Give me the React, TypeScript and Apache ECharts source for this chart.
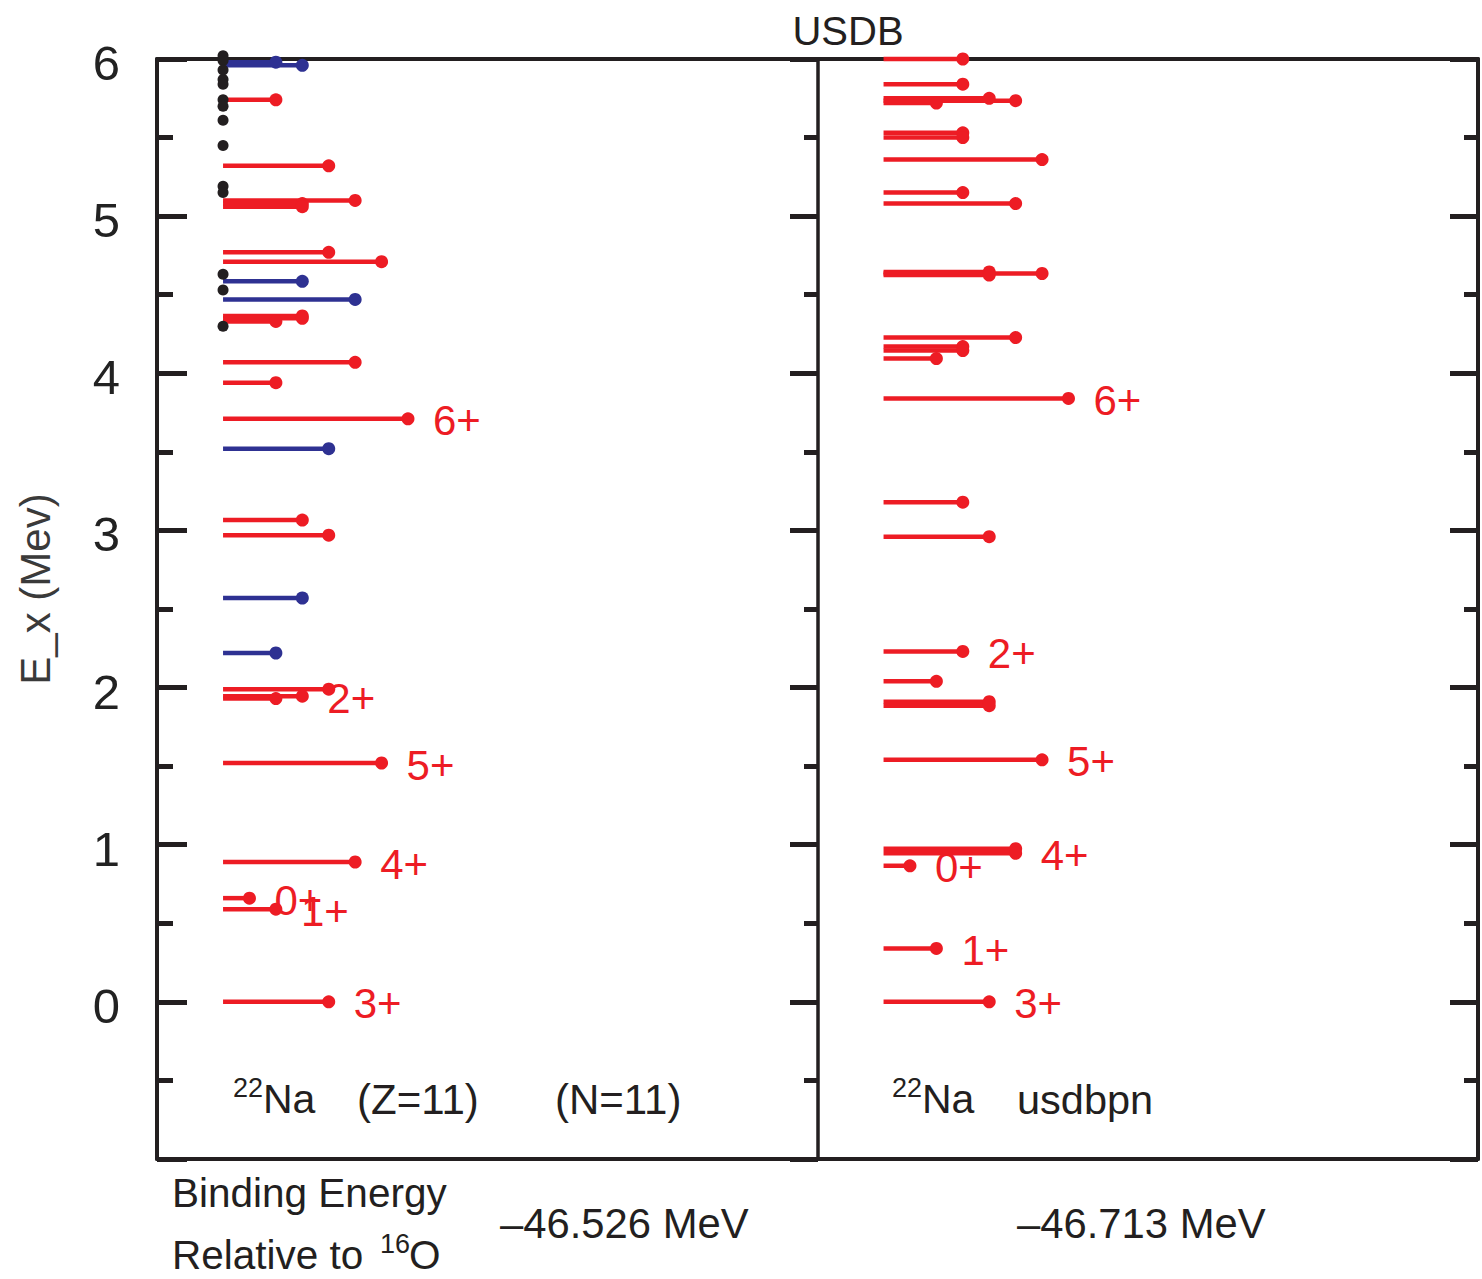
import React, { useEffect, useRef } from "react";
import * as echarts from "echarts";

// Energy axis ticks (MeV)
const yMin = -1;
const yMax = 6;

// Experimental 22Na levels [E_x (MeV), J] — positive parity (red)
const expPositive: [number, number][] = [
  [5.74, 1], [5.32, 3], [5.10, 4], [5.08, 2], [5.06, 2],
  [4.77, 3], [4.71, 5], [4.365, 2], [4.35, 2], [4.33, 1],
  [4.07, 4], [3.94, 1], [3.71, 6], [3.066, 2], [2.97, 3],
  [1.99, 3], [1.945, 2], [1.93, 1], [1.52, 5], [0.89, 4],
  [0.66, 0], [0.59, 1], [0, 3],
];

// Experimental negative parity levels (blue)
const expNegative: [number, number][] = [
  [5.98, 1], [5.96, 2], [4.585, 2], [4.47, 4], [3.52, 3], [2.57, 2], [2.22, 1],
];

// Experimental levels of unknown spin (black dots)
const expUnknown: number[] = [
  6.02, 5.99, 5.93, 5.87, 5.84, 5.74, 5.70, 5.61, 5.45, 5.19, 5.15, 4.63, 4.53, 4.30,
];

// USDB (usdbpn) calculated levels [E_x (MeV), J] — positive parity
const usdbLevels: [number, number][] = [
  [6.00, 2], [5.84, 2], [5.75, 3], [5.735, 4], [5.72, 1],
  [5.53, 2], [5.50, 2], [5.36, 5], [5.15, 2], [5.08, 4],
  [4.645, 3], [4.635, 5], [4.625, 3], [4.227, 4], [4.17, 2],
  [4.145, 2], [4.094, 1], [3.84, 6], [3.18, 2], [2.96, 3],
  [2.23, 2], [2.04, 1], [1.91, 3], [1.885, 3], [1.54, 5],
  [0.975, 4], [0.945, 4], [0.866, 0], [0.34, 1], [0, 3],
];

const titleText = "USDB";
const yAxisTitle = "E_x (Mev)";
const bindingExp = "\u201346.526 MeV";
const bindingUsdb = "\u201346.713 MeV";

const RED = "#ED1C24";
const BLUE = "#2E3192";
const BLACK = "#231F20";
const FONT = "'Liberation Sans', Arial, Helvetica, sans-serif";

function yrast(levels: [number, number][]): [number, number][] {
  const best: Record<number, number> = {};
  levels.forEach(([e, j]) => {
    if (best[j] === undefined || e < best[j]) best[j] = e;
  });
  return Object.keys(best).map((k) => [best[Number(k)], Number(k)] as [number, number]);
}

export default function App() {
  const ref = useRef<HTMLDivElement>(null);

  useEffect(() => {
    if (!ref.current) return;
    const chart = echarts.init(ref.current, null, { renderer: "svg" });

    const START = 0.1;
    const STEP = 0.04;

    const makeRender = (color: string, r: number) => (params: any, api: any) => {
      const panel = api.value(0);
      const e = api.value(1);
      const j = api.value(2);
      const p0 = api.coord([panel + START, e]);
      const p1 = api.coord([panel + START + STEP * (j + 1), e]);
      const children: any[] = [];
      if (j >= 0) {
        children.push({
          type: "line",
          shape: { x1: p0[0], y1: p0[1], x2: p1[0], y2: p1[1] },
          style: { stroke: color, lineWidth: 4.5 },
        });
      }
      children.push({
        type: "circle",
        shape: { cx: p1[0], cy: p1[1], r },
        style: { fill: color },
      });
      return { type: "group", children };
    };

    const labelRender = (params: any, api: any) => {
      const panel = api.value(0);
      const e = api.value(1);
      const j = api.value(2);
      const p1 = api.coord([panel + START + STEP * (j + 1), e]);
      return {
        type: "text",
        x: p1[0] + 25,
        y: p1[1] + 2,
        style: {
          text: `${j}+`,
          fill: RED,
          fontSize: 42,
          fontFamily: FONT,
          align: "left",
          verticalAlign: "middle",
        },
      };
    };

    const withPanel = (panel: number, lv: [number, number][]) =>
      lv.map(([e, j]) => [panel, e, j]);

    const labelData = [
      ...withPanel(0, yrast(expPositive)),
      ...withPanel(1, yrast(usdbLevels)),
    ];

    const axisCommon = {
      type: "value" as const,
      min: yMin,
      max: yMax,
      interval: 1,
      splitLine: { show: false },
      minorSplitLine: { show: false },
    };

    const txt = (text: string, x: number, y: number, size: number, extra: any = {}) => ({
      type: "text",
      x,
      y,
      style: {
        text,
        fontSize: size,
        fontFamily: FONT,
        fill: "#231F20",
        align: "left",
        verticalAlign: "middle",
        ...extra,
      },
    });

    chart.setOption({
      animation: false,
      backgroundColor: "#ffffff",
      grid: { left: 157, right: 4, top: 59, bottom: 120, containLabel: false },
      xAxis: [
        {
          type: "value",
          min: 0,
          max: 2,
          position: "bottom",
          axisLine: { show: true, onZero: false, lineStyle: { color: BLACK, width: 4 } },
          axisTick: { show: false },
          axisLabel: { show: false },
          splitLine: { show: false },
        },
        {
          type: "value",
          min: 0,
          max: 2,
          position: "top",
          axisLine: { show: true, onZero: false, lineStyle: { color: BLACK, width: 4 } },
          axisTick: { show: false },
          axisLabel: { show: false },
          splitLine: { show: false },
        },
      ],
      yAxis: [
        {
          ...axisCommon,
          position: "left",
          axisLine: { show: true, onZero: false, lineStyle: { color: BLACK, width: 4 } },
          axisTick: { show: true, inside: true, length: 30, lineStyle: { color: BLACK, width: 5 } },
          minorTick: { show: true, splitNumber: 2, length: 16, lineStyle: { color: BLACK, width: 5 } },
          axisLabel: {
            show: true,
            margin: 37,
            fontSize: 49,
            fontFamily: FONT,
            color: "#222222",
            formatter: (v: number) => (v === yMin ? "" : `{v|${v}}`),
            rich: {
              v: {
                fontSize: 49,
                fontFamily: FONT,
                color: "#222222",
                padding: [8, 0, 0, 0],
              },
            },
          },
        },
        {
          ...axisCommon,
          position: "right",
          offset: 0,
          axisLine: { show: true, onZero: false, lineStyle: { color: BLACK, width: 4 } },
          axisTick: { show: true, inside: true, length: 28, lineStyle: { color: BLACK, width: 5 } },
          minorTick: { show: true, splitNumber: 2, length: 14, lineStyle: { color: BLACK, width: 5 } },
          axisLabel: { show: false },
        },
        {
          ...axisCommon,
          position: "right",
          offset: -660,
          axisLine: { show: true, onZero: false, lineStyle: { color: BLACK, width: 3.5 } },
          axisTick: { show: true, inside: true, length: 28, lineStyle: { color: BLACK, width: 5 } },
          minorTick: { show: true, splitNumber: 2, length: 14, lineStyle: { color: BLACK, width: 5 } },
          axisLabel: { show: false },
        },
      ],
      series: [
        {
          type: "custom",
          name: "exp+",
          xAxisIndex: 0,
          yAxisIndex: 0,
          clip: false,
          renderItem: makeRender(RED, 6.5),
          data: withPanel(0, expPositive),
          z: 3,
        },
        {
          type: "custom",
          name: "exp-",
          xAxisIndex: 0,
          yAxisIndex: 0,
          clip: false,
          renderItem: makeRender(BLUE, 6.5),
          data: withPanel(0, expNegative),
          z: 3,
        },
        {
          type: "custom",
          name: "exp?",
          xAxisIndex: 0,
          yAxisIndex: 0,
          clip: false,
          renderItem: makeRender(BLACK, 5.5),
          data: expUnknown.map((e) => [0, e, -1]),
          z: 4,
        },
        {
          type: "custom",
          name: "usdb",
          xAxisIndex: 0,
          yAxisIndex: 0,
          clip: false,
          renderItem: makeRender(RED, 6.5),
          data: withPanel(1, usdbLevels),
          z: 3,
        },
        {
          type: "custom",
          name: "labels",
          xAxisIndex: 0,
          yAxisIndex: 0,
          clip: false,
          renderItem: labelRender,
          data: labelData,
          z: 5,
        },
      ],
      graphic: [
        txt(titleText, 848, 31, 40, { align: "center" }),
        {
          type: "text",
          x: 35,
          y: 589,
          rotation: Math.PI / 2,
          style: {
            text: yAxisTitle,
            fontSize: 42,
            fontFamily: FONT,
            fill: "#3a3a3a",
            align: "center",
            verticalAlign: "middle",
          },
        },
        txt("22", 233, 1088, 27),
        txt("Na", 263, 1099, 41),
        txt("(Z=11)", 357, 1099, 42),
        txt("(N=11)", 555, 1099, 42),
        txt("22", 892, 1088, 27),
        txt("Na", 922, 1099, 41),
        txt("usdbpn", 1017, 1099, 41.5),
        txt("Binding Energy", 172, 1193, 40.5),
        txt("Relative to", 172, 1255, 40.5),
        txt("16", 380, 1244, 27),
        txt("O", 409, 1255, 40.5),
        txt(bindingExp, 500, 1223, 41.8),
        txt(bindingUsdb, 1017, 1223, 41.8),
      ],
    });

    return () => {
      chart.dispose();
    };
  }, []);

  return (
    <div
      ref={ref}
      style={{ position: "absolute", left: 0, top: 0, width: 1482, height: 1279, background: "#fff" }}
    />
  );
}
